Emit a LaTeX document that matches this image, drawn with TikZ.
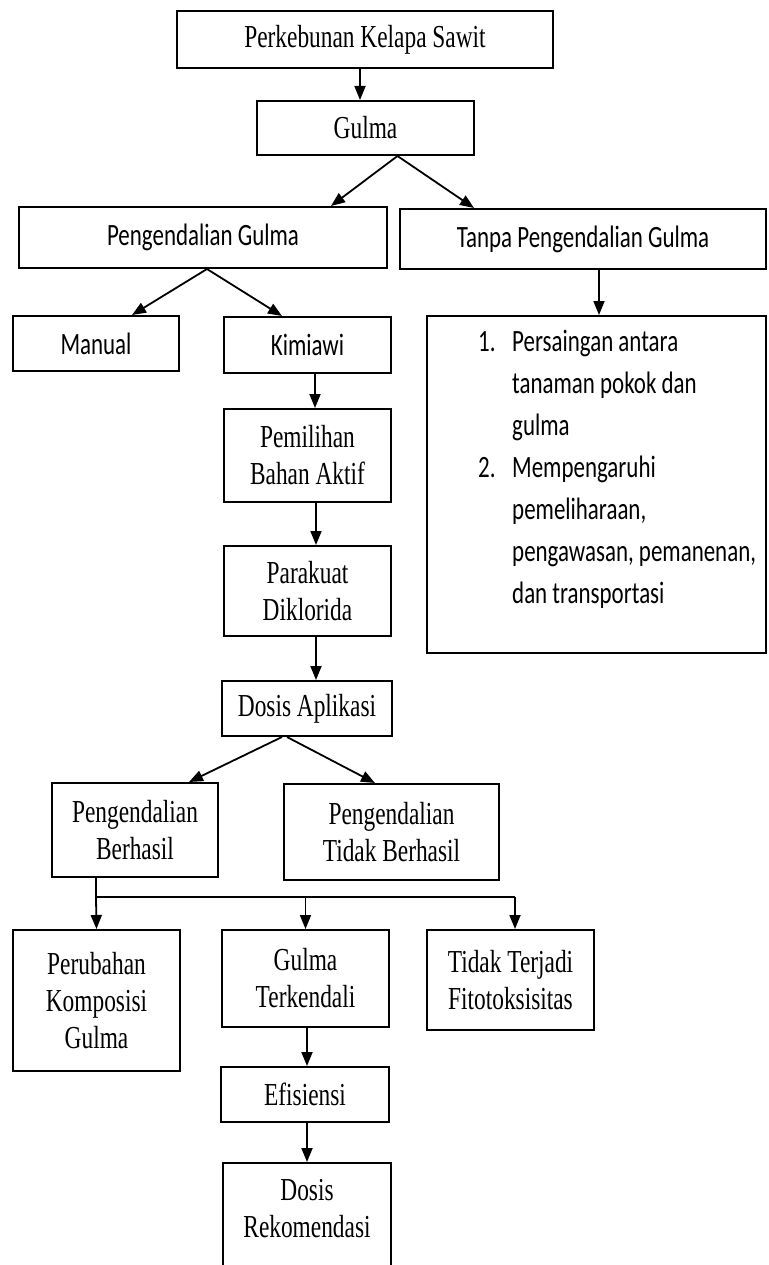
\documentclass[tikz,border=0pt]{standalone}
\usepackage{fontspec}
\setmainfont{Liberation Serif}[FakeStretch=0.73]
\newfontfamily\calibfont{Carlito}[FakeStretch=0.74]
\usetikzlibrary{arrows.meta}
\newcommand\tnrsize{\fontsize{32pt}{37pt}\selectfont}
\newcommand\calibsize{\calibfont\fontsize{31pt}{42pt}\selectfont}
\begin{document}
\begin{tikzpicture}[x=1pt,y=-1pt,
  tbox/.style={draw, line width=2pt, inner sep=0pt, align=center, font=\tnrsize},
  cbox/.style={tbox, font=\calibsize},
  arr/.style={line width=1.8pt, -{Triangle[length=14pt,width=11pt]}},
  plain/.style={line width=1.8pt}]
\useasboundingbox (0,0) rectangle (768,1265);

\node[tbox, minimum width=376pt, minimum height=57pt] (top) at (365,39.5) {Perkebunan Kelapa Sawit};
\node[tbox, minimum width=217pt, minimum height=54pt] (gulma) at (365.5,128) {Gulma};
\node[cbox, minimum width=368pt, minimum height=61pt] (pg) at (203,237.5) {Pengendalian Gulma};
\node[cbox, minimum width=366pt, minimum height=60pt] (tanpa) at (583,239) {Tanpa Pengendalian Gulma};
\node[cbox, minimum width=166pt, minimum height=55pt] (manual) at (96,343.5) {Manual};
\node[cbox, minimum width=167pt, minimum height=56pt] (kimiawi) at (307.5,345) {Kimiawi};
\node[tbox, minimum width=339pt, minimum height=337pt] (list) at (596.5,484.5) {};
\node[font=\calibsize, align=left, anchor=north west, inner sep=0pt] (listtext) at (478,330) {%
\makebox[34pt][l]{1.}Persaingan antara\\
\hspace*{34pt}tanaman pokok dan\\
\hspace*{34pt}gulma\\
\makebox[34pt][l]{2.}Mempengaruhi\\
\hspace*{34pt}pemeliharaan,\\
\hspace*{34pt}pengawasan, pemanenan,\\
\hspace*{34pt}dan transportasi};
\node[tbox, minimum width=167pt, minimum height=93pt] (pemilihan) at (307.5,455.5) {Pemilihan\\Bahan Aktif};
\node[tbox, minimum width=167pt, minimum height=90pt] (parakuat) at (307.5,591) {Parakuat\\Diklorida};
\node[tbox, minimum width=170pt, minimum height=55pt] (dosisapl) at (307,708.5) {Dosis Aplikasi};
\node[tbox, minimum width=166pt, minimum height=94pt] (berhasil) at (135,830) {Pengendalian\\Berhasil};
\node[tbox, minimum width=215pt, minimum height=96pt] (tidak) at (391.5,832) {Pengendalian\\Tidak Berhasil};
\node[tbox, minimum width=167pt, minimum height=141pt] (perubahan) at (96.5,1000.5) {Perubahan\\Komposisi\\Gulma};
\node[tbox, minimum width=167pt, minimum height=97pt] (terkendali) at (305.5,978.5) {Gulma\\Terkendali};
\node[tbox, minimum width=167pt, minimum height=100pt] (fito) at (510.5,980) {Tidak Terjadi\\Fitotoksisitas};
\node[tbox, minimum width=168pt, minimum height=55pt] (efisiensi) at (305,1094.5) {Efisiensi};
\node[tbox, minimum width=168pt, anchor=north, inner xsep=0pt, inner ysep=16pt, text depth=80pt] (rekom) at (307,1162) {Dosis\\Rekomendasi};

\draw[arr] ([xshift=-5pt]top.south) -- ([xshift=-5.5pt]gulma.north);
\draw[arr] ([xshift=32pt]gulma.south) -- ([xshift=128pt]pg.north);
\draw[arr] ([xshift=32pt]gulma.south) -- ([xshift=-109pt]tanpa.north);
\draw[arr] ([xshift=4pt]pg.south) -- ([xshift=36pt]manual.north);
\draw[arr] ([xshift=4pt]pg.south) -- ([xshift=-25.5pt]kimiawi.north);
\draw[arr] ([xshift=16pt]tanpa.south) -- ([xshift=2.5pt]list.north);
\draw[arr] ([xshift=7.5pt]kimiawi.south) -- ([xshift=7.5pt]pemilihan.north);
\draw[arr] ([xshift=8.5pt]pemilihan.south) -- ([xshift=8.5pt]parakuat.north);
\draw[arr] ([xshift=8.5pt]parakuat.south) -- ([xshift=9pt]dosisapl.north);
\draw[arr] ([xshift=-25pt]dosisapl.south) -- ([xshift=54pt]berhasil.north);
\draw[arr] ([xshift=-20pt]dosisapl.south) -- ([xshift=-16.5pt]tidak.north);
\coordinate (busL) at (96,897);
\coordinate (busR) at (515,897);
\draw[plain] ([xshift=-39pt]berhasil.south) -- (busL) -- (busR);
\draw[arr] (busL) -- (perubahan.north);
\draw[arr] (busL -| terkendali.north) -- (terkendali.north);
\draw[arr] (busR) -- ([xshift=4.5pt]fito.north);
\draw[arr] ([xshift=1.5pt]terkendali.south) -- ([xshift=2pt]efisiensi.north);
\draw[arr] ([xshift=2pt]efisiensi.south) -- (rekom.north);
\end{tikzpicture}
\end{document}
